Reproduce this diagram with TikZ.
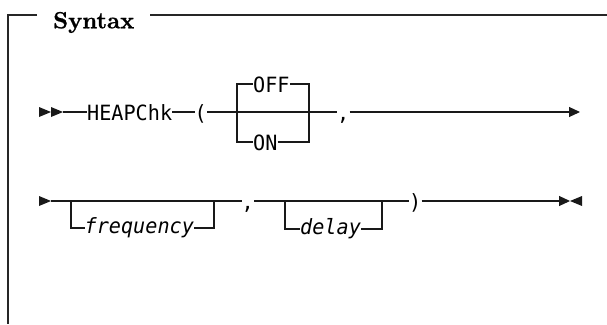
\documentclass[tikz,border=0pt]{standalone}
\usepackage{fontspec}
\usetikzlibrary{arrows.meta}
\newfontfamily\kwfont[FakeStretch=0.96]{DejaVu Sans Mono}
\newfontface\titlefont{lmroman10-bold.otf}[FakeBold=0.8]
\tikzset{
  diag/.style={line width=1.1pt, black!90},
  framel/.style={line width=1.3pt, black!85},
  kw/.style={font=\fontsize{21}{24}\kwfont, inner sep=0pt, text height=16pt, text depth=0pt, anchor=west},
  var/.style={font=\fontsize{21}{24}\kwfont\itshape, inner sep=0pt, text height=10pt, text depth=0pt, anchor=west},
  tip/.style={-{Triangle[length=11pt,width=10pt]}},
}
\begin{document}
\begin{tikzpicture}[x=1pt,y=-1pt]
\useasboundingbox (0,0) rectangle (607,324);
% frame and title
\node[font=\fontsize{23.4}{28}\titlefont, inner sep=0pt, anchor=base west] (title) at (53,28.3) {Syntax};
\draw[framel] (37,15) -- (8,15) -- (8,324);
\draw[framel] (150,15) -- (607,15);
% ---- row 1 ----
\fill[diag] (39,107) -- (51,112) -- (39,117) -- cycle;
\fill[diag] (51,107) -- (63,112) -- (51,117) -- cycle;
\coordinate (s1) at (63,112);
\node[kw] (heap) at (87,112) {HEAPChk};
\node[kw] (lp) at (194.5,112) {(};
\node[kw] (off) at (253,84) {OFF};
\node[kw] (on) at (253,142) {ON};
\node[kw] (c1) at (337,112) {,};
\coordinate (jl) at (237,112);
\coordinate (jr) at (309,112);
\coordinate (e1) at (580,112);
\draw[diag] (s1) -- (heap.west);
\draw[diag] (heap.east) -- (lp.west);
\draw[diag] (lp.east) -- (c1.west);
\draw[diag] (jl) |- (off.west);
\draw[diag] (off.east) -| (jr);
\draw[diag] (jl) |- (on.west);
\draw[diag] (on.east) -| (jr);
\draw[diag,tip] (c1.east) -- (e1);
% ---- row 2 ----
\fill[diag] (39,196) -- (51,201) -- (39,206) -- cycle;
\coordinate (s2) at (51,201);
\node[var] (freq) at (84.5,228) {frequency};
\node[kw] (c2) at (241.5,201) {,};
\node[var] (delay) at (300,229) {delay};
\node[kw] (rp) at (409,201) {)};
\coordinate (fl) at (71,201);
\coordinate (fr) at (214,201);
\coordinate (dl) at (285,201);
\coordinate (dr) at (382,201);
\coordinate (e2) at (570,201);
\draw[diag] (s2) -- (c2.west);
\draw[diag] (fl) |- (freq.west);
\draw[diag] (freq.east) -| (fr);
\draw[diag] (c2.east) -- (rp.west);
\draw[diag] (dl) |- (delay.west);
\draw[diag] (delay.east) -| (dr);
\draw[diag,tip] (rp.east) -- (e2);
\draw[line width=1.7pt, black!90] (440,201) -- (445,201);
\fill[diag] (582,196) -- (570,201) -- (582,206) -- cycle;
\end{tikzpicture}
\end{document}
